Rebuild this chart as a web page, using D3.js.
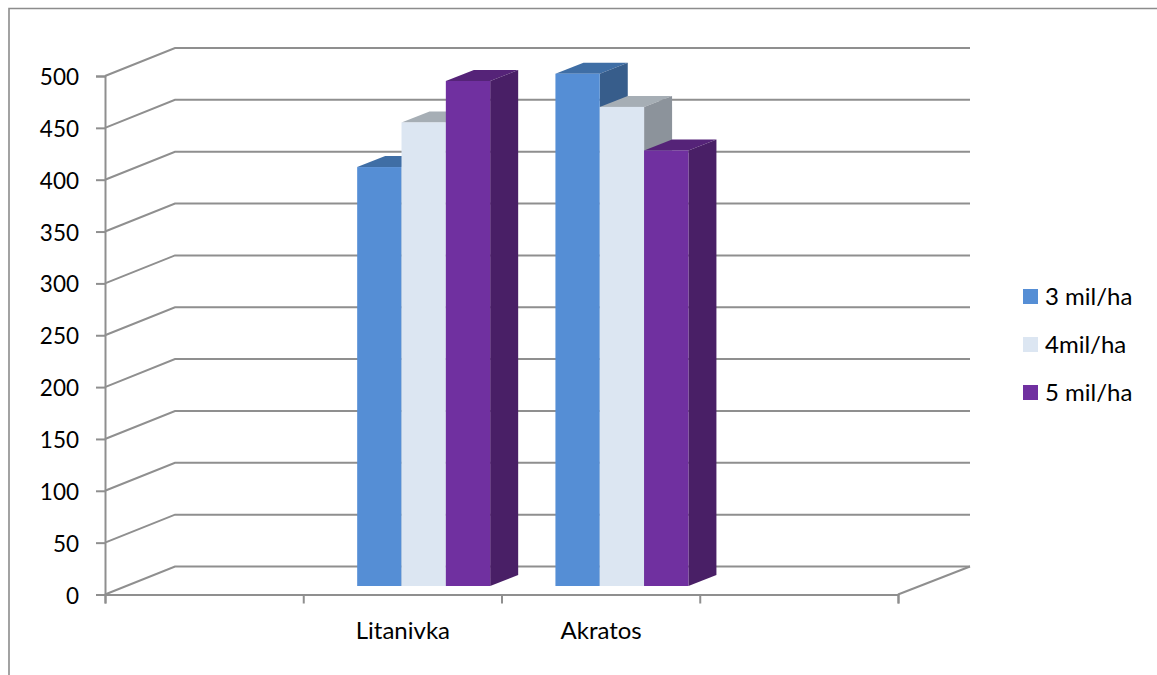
<!DOCTYPE html>
<html><head><meta charset="utf-8">
<script src="https://cdn.jsdelivr.net/npm/d3@7"></script>
<style>html,body{margin:0;background:#fff}svg{display:block}text{font-family:Lato,"Open Sans",sans-serif;fill:#000}</style>
</head><body><svg id="c" width="1157" height="675"></svg>
<script>
const categories = ["", "Litanivka", "Akratos", ""];
const seriesNames = ["3 mil/ha", "4mil/ha", "5 mil/ha"];
const barCategories = ["Litanivka", "Akratos"];
const s3 = [404, 494];
const s4 = [447, 462];
const s5 = [487, 420];
const seriesValues = [s3, s4, s5];
const yTicks = [0, 50, 100, 150, 200, 250, 300, 350, 400, 450, 500];
const front = ["#558ed5", "#dce6f2", "#7030a0"];
const side = ["#375d8b", "#8c939b", "#491f66"];
const top_ = ["#3f6ea5", "#a6aeb5", "#552378"];
const GRID = "#8f8f8f";

const svg = d3.select("#c");
const x = d3.scaleBand().domain(categories.map((c, i) => i)).range([105, 898]);
const y = d3.scaleLinear().domain([0, 500]).range([594.5, 76]);
const DX = 70, DY = -28;      // wall depth
const BX = 28, BY = -11;      // bar depth
const SHX = 21.3, SHY = -8.5; // bar plane shift within floor

// frame
svg.append("path").attr("d", "M9,675V8.5H1157").attr("fill", "none").attr("stroke", "#8c8c8c").attr("stroke-width", 1.6);

// gridlines: side wall + back wall
svg.append("g").selectAll("path").data(yTicks).join("path")
  .attr("d", v => `M105,${y(v)}L${105 + DX},${y(v) + DY}H970`)
  .attr("fill", "none").attr("stroke", GRID).attr("stroke-width", 2);
// floor right edge
svg.append("path").attr("d", `M898,${y(0)}L${898 + DX + 2},${y(0) + DY}`)
  .attr("fill", "none").attr("stroke", GRID).attr("stroke-width", 2);

// axes
const yAxis = d3.axisLeft(y).tickValues(yTicks).tickSize(9).tickPadding(17);
const gy = svg.append("g").attr("transform", "translate(105,0)").call(yAxis);
const xEdges = d3.range(categories.length + 1);
const xEdge = d3.scaleLinear().domain([0, categories.length]).range([105, 898]);
const gxT = svg.append("g").attr("transform", `translate(0,${y(0)})`)
  .call(d3.axisBottom(xEdge).tickValues(xEdges).tickSize(9).tickFormat(""));
const gxL = svg.append("g").attr("transform", `translate(0,${y(0)})`)
  .call(d3.axisBottom(d3.scalePoint().domain(categories.filter(Boolean)).range([x.bandwidth() * 1.5 + 105, x.bandwidth() * 2.5 + 105]))
    .tickSize(0).tickPadding(27));
gxL.select(".domain").remove();
[gy, gxT, gxL].forEach(g => {
  g.selectAll(".domain,.tick line").attr("stroke", GRID).attr("stroke-width", 2);
  g.selectAll("text").attr("font-size", 24).style("font-family", "Lato");
});
gy.selectAll("text").attr("font-size", 22.5).attr("dy", "0.38em");

// bars
const inner = d3.scaleBand().domain(seriesNames).range([0, 133]);
const bandX = c => x(categories.indexOf(c)) + x.bandwidth() / 2 - 66.5 + SHX;
const bars = [];
barCategories.forEach((c, ci) => seriesNames.forEach((s, si) =>
  bars.push({ x0: bandX(c) + inner(s), w: inner.bandwidth(), yt: y(seriesValues[si][ci]) + SHY, yb: y(0) + SHY, si })));
const g = svg.append("g").selectAll("g").data(bars).join("g");
g.append("path").attr("fill", d => top_[d.si])
  .attr("d", d => `M${d.x0},${d.yt}l${BX},${BY}h${d.w}l${-BX},${-BY}z`);
g.append("path").attr("fill", d => side[d.si])
  .attr("d", d => `M${d.x0 + d.w},${d.yt}l${BX},${BY}V${d.yb + BY}l${-BX},${-BY}z`);
g.append("rect").attr("fill", d => front[d.si])
  .attr("x", d => d.x0).attr("y", d => d.yt).attr("width", d => d.w).attr("height", d => d.yb - d.yt);

// legend
const legY = d3.scalePoint().domain(seriesNames).range([296.5, 392.5]);
const lg = svg.append("g").selectAll("g").data(seriesNames).join("g")
  .attr("transform", d => `translate(1023,${legY(d)})`);
lg.append("rect").attr("y", -7.5).attr("width", 15).attr("height", 15).attr("fill", (d, i) => front[i]);
lg.append("text").attr("x", 22).attr("dy", "0.35em").attr("font-size", 24).text(d => d);
</script></body></html>
